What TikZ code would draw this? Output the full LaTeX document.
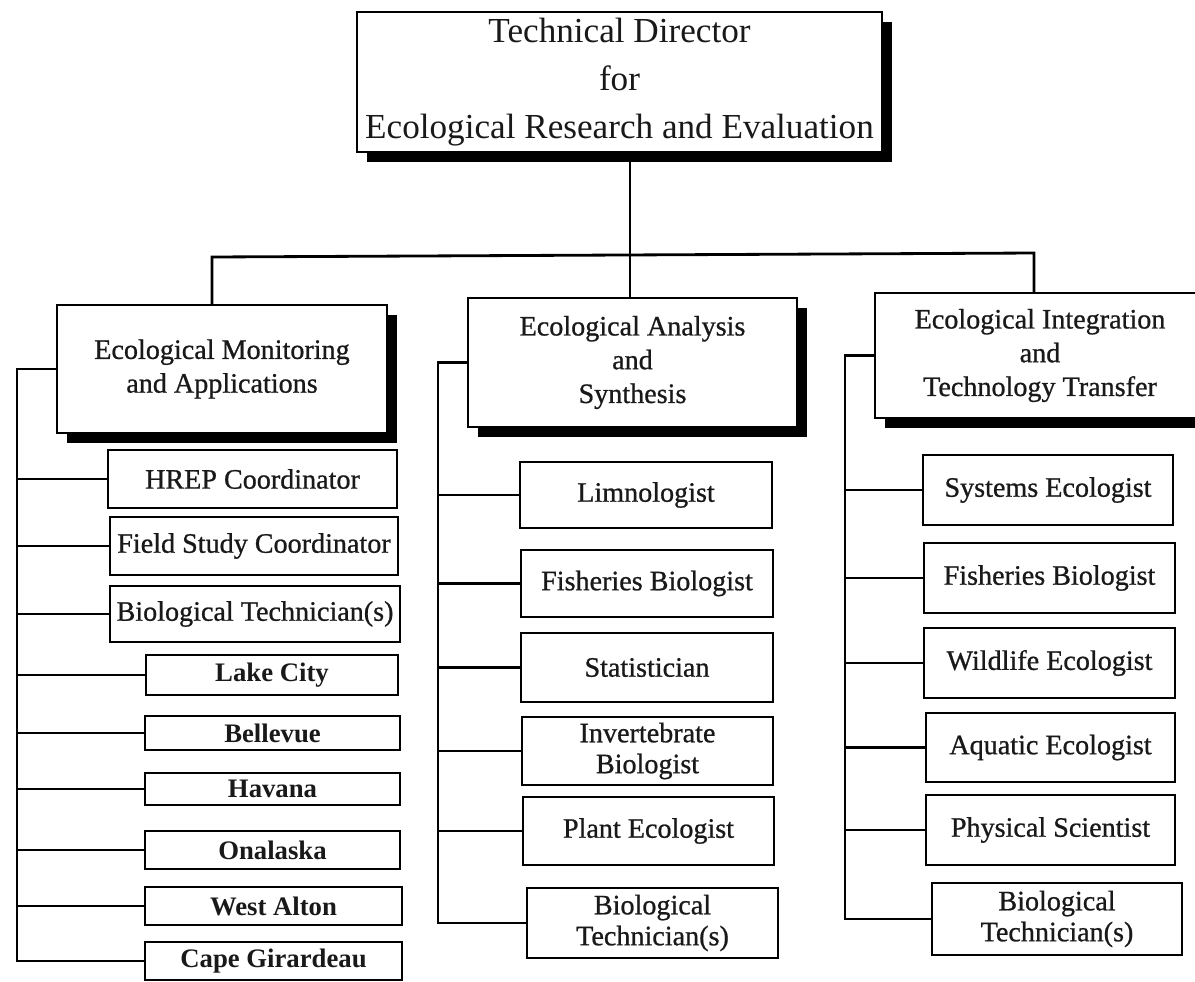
\documentclass[tikz,border=0pt]{standalone}
\usepackage{fontspec}
\setmainfont{Liberation Serif}
\newfontfamily\medserif{Liberation Serif}[FakeBold=0.8]
\usetikzlibrary{shadows}
\newcommand\obox[7]{\node[#1, minimum width={(#5-#3)*0.71132pt}, minimum height={(#6-#4)*0.71132pt}] (#2) at ({(#3+#5)/2},{(#4+#6)/2}) {#7};}
\tikzset{
  unitbox/.style={draw, line width=1.7pt, fill=white, inner sep=0pt, align=center, text=black!90},
  headbox/.style={unitbox, drop shadow={opacity=1, fill=black, shadow xshift=0.25cm, shadow yshift=-0.26cm}},
  toptext/.style={font=\fontsize{25}{34}\selectfont},
  headtext/.style={font=\medserif\fontsize{20}{24}\selectfont},
  memtext/.style={unitbox, font=\medserif\fontsize{20}{22}\selectfont},
  loctext/.style={unitbox, line width=1.9pt, font=\bfseries\fontsize{19}{22}\selectfont},
  conn/.style={line width=2pt},
}
\begin{document}
\begin{tikzpicture}[x=0.025cm, y=-0.025cm]
\fill[white] (0,0) rectangle (1195,981);
\useasboundingbox (0,0) rectangle (1195,981);
% top
\obox{headbox,toptext}{top}{357}{12}{882}{152}{Technical Director\\for\\Ecological Research and Evaluation}
% heads
\obox{headbox,headtext}{lh}{57}{305}{387}{433}{Ecological Monitoring\\and Applications}
\obox{headbox,headtext}{mh}{468}{298}{797}{427}{Ecological Analysis\\and\\Synthesis}
\obox{headbox,headtext}{rh}{875}{293}{1205}{418}{Ecological Integration\\and\\Technology Transfer}
% left column
\obox{memtext}{hrep}{108}{450}{397}{508}{HREP Coordinator}
\obox{memtext}{field}{110}{517}{398}{575}{Field Study Coordinator}
\obox{memtext}{biot}{110}{586}{400}{642}{Biological Technician(s)}
\obox{loctext}{lake}{146}{655}{398}{695}{Lake City}
\obox{loctext}{bell}{145}{716}{400}{750}{Bellevue}
\obox{loctext}{hav}{145}{773}{400}{805}{Havana}
\obox{loctext}{onal}{145}{831}{400}{869}{Onalaska}
\obox{loctext}{west}{145}{887}{402}{925}{West Alton}
\obox{loctext}{cape}{145}{942}{402}{980}{Cape Girardeau}
% middle column
\obox{memtext}{limn}{520}{462}{772}{528}{Limnologist}
\obox{memtext}{fisha}{521}{550}{773}{617}{Fisheries Biologist}
\obox{memtext}{stat}{521}{633}{773}{702}{Statistician}
\obox{memtext}{inv}{522}{717}{773}{785}{Invertebrate\\Biologist}
\obox{memtext}{plant}{523}{797}{774}{865}{Plant Ecologist}
\obox{memtext}{btb}{527}{888}{778}{958}{Biological\\Technician(s)}
% right column
\obox{memtext}{sys}{923}{455}{1173}{525}{Systems Ecologist}
\obox{memtext}{fishb}{924}{543}{1175}{613}{Fisheries Biologist}
\obox{memtext}{wild}{924}{628}{1175}{698}{Wildlife Ecologist}
\obox{memtext}{aqua}{926}{713}{1175}{782}{Aquatic Ecologist}
\obox{memtext}{phys}{926}{795}{1175}{865}{Physical Scientist}
\obox{memtext}{btc}{932}{883}{1182}{955}{Biological\\Technician(s)}
% top connectors
\coordinate (jn) at (630,255);
\coordinate (bl) at (212,257);
\coordinate (br) at (1034,253);
\draw[conn] (jn |- top.south) -- (jn |- mh.north);
\draw[conn] (bl |- lh.north) -- (bl) -- (br) -- (br |- rh.north);
% left bus
\coordinate (lbus) at (17,0);
\draw[conn] (lh.west) -| (lbus |- cape.west) -- (cape.west);
\foreach \n in {hrep,field,biot,lake,bell,hav,onal,west}
  \draw[conn] (\n.west) -- (lbus |- \n.west);
% middle bus
\coordinate (mbus) at (438,0);
\draw[conn] (mh.west) -| (mbus |- btb.west) -- (btb.west);
\foreach \n in {limn,fisha,stat,inv,plant}
  \draw[conn] (\n.west) -- (mbus |- \n.west);
% right bus
\coordinate (rbus) at (845,0);
\draw[conn] (rh.west) -| (rbus |- btc.west) -- (btc.west);
\foreach \n in {sys,fishb,wild,aqua,phys}
  \draw[conn] (\n.west) -- (rbus |- \n.west);
\end{tikzpicture}
\end{document}
